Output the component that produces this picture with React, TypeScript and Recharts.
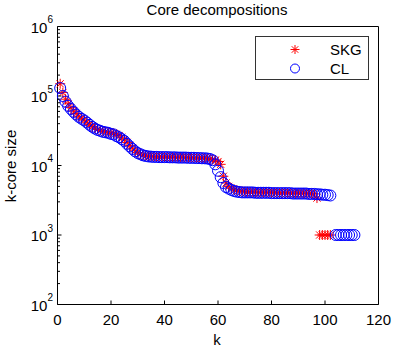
import React from 'react'
import { ScatterChart, Scatter, XAxis, YAxis, Legend } from 'recharts'

// k values and k-core sizes
const skgK = [
  1, 2, 3, 4, 5, 6, 7, 8, 9, 10, 11, 12, 13, 14, 15, 16, 17, 18, 19, 20,
  21, 22, 23, 24, 25, 26, 27, 28, 29, 30, 31, 32, 33, 34, 35, 36, 37, 38, 39, 40,
  41, 42, 43, 44, 45, 46, 47, 48, 49, 50, 51, 52, 53, 54, 55, 56, 57, 58, 59, 60,
  61, 62, 63, 64, 65, 66, 67, 68, 69, 70, 71, 72, 73, 74, 75, 76, 77, 78, 79, 80,
  81, 82, 83, 84, 85, 86, 87, 88, 89, 90, 91, 92, 93, 94, 95, 96, 97,
  98, 99, 100, 101, 102,
]
const skgSize = [
  150000, 112000, 90000, 77000, 68000, 61000, 56000, 51000, 48000, 45000,
  42000, 39000, 36500, 34500, 33000, 32000, 31000, 30500, 30000, 29500,
  29000, 28000, 27000, 25500, 23500, 21500, 19500, 17800, 16300, 15300,
  14600, 14100, 13800, 13600, 13500, 13400, 13400, 13300, 13300, 13300,
  13200, 13200, 13200, 13100, 13100, 13100, 13100, 13000, 13000, 13000,
  12900, 12900, 12800, 12800, 12700, 12600, 12400, 12200, 11900, 11400,
  10400, 7000, 5600, 5000, 4700, 4500, 4400, 4300, 4250, 4200,
  4200, 4150, 4150, 4150, 4100, 4100, 4100, 4100, 4100, 4100,
  4100, 4050, 4050, 4050, 4050, 4050, 4000, 4000, 4000, 4000,
  4000, 4000, 3950, 3950, 3950, 3900, 3400,
  1000, 1000, 1000, 1000, 1000,
]

const clK = [
  1, 2, 3, 4, 5, 6, 7, 8, 9, 10, 11, 12, 13, 14, 15, 16, 17, 18, 19, 20,
  21, 22, 23, 24, 25, 26, 27, 28, 29, 30, 31, 32, 33, 34, 35, 36, 37, 38, 39, 40,
  41, 42, 43, 44, 45, 46, 47, 48, 49, 50, 51, 52, 53, 54, 55, 56, 57, 58, 59, 60,
  61, 62, 63, 64, 65, 66, 67, 68, 69, 70, 71, 72, 73, 74, 75, 76, 77, 78, 79, 80,
  81, 82, 83, 84, 85, 86, 87, 88, 89, 90, 91, 92, 93, 94, 95, 96, 97, 98, 99, 100,
  101, 102,
  104, 105, 106, 107, 108, 109, 110, 111,
]
const clSize = [
  130000, 100000, 83000, 72000, 65000, 59000, 54000, 50000, 47000, 44500,
  41500, 38500, 36000, 34000, 32500, 31500, 30500, 30000, 29500, 28500,
  28000, 26500, 25500, 24000, 22500, 20500, 18800, 17300, 16000, 15100,
  14500, 14000, 13700, 13500, 13400, 13300, 13300, 13200, 13200, 13200,
  13200, 13100, 13100, 13100, 13000, 13000, 13000, 13000, 12900, 12900,
  12900, 12800, 12800, 12700, 12700, 12600, 12400, 11900, 10400, 8400,
  6800, 5600, 4900, 4650, 4450, 4300, 4200, 4150, 4100, 4100,
  4100, 4100, 4100, 4050, 4050, 4050, 4050, 4050, 4050, 4000,
  4000, 4000, 4000, 4000, 4000, 4000, 4000, 3950, 3950, 3950,
  3950, 3950, 3950, 3900, 3900, 3900, 3850, 3850, 3800, 3800,
  3750, 3700,
  1000, 1000, 1000, 1000, 1000, 1000, 1000, 1000,
]

const xTicks = [0, 20, 40, 60, 80, 100, 120]
const yMajor = [100, 1000, 10000, 100000, 1000000]
const yExp = ['2', '3', '4', '5', '6']
const yMinor = yMajor.slice(0, -1).flatMap(d => [2, 3, 4, 5, 6, 7, 8, 9].map(m => m * d))
const yTicks = [...yMajor, ...yMinor].sort((a, b) => a - b)

const skgData = skgK.map((k, i) => ({ k, size: skgSize[i] }))
const clData = clK.map((k, i) => ({ k, size: clSize[i] }))

const FONT = '"Liberation Sans", Arial, sans-serif'

const asteriskPath = (cx: number, cy: number, r: number) => {
  const d = r * 0.72
  return `M${cx - r},${cy}H${cx + r}M${cx},${cy - r}V${cy + r}` +
    `M${cx - d},${cy - d}L${cx + d},${cy + d}M${cx - d},${cy + d}L${cx + d},${cy - d}`
}

const Asterisk = (props: any) => {
  const { cx, cy } = props
  return <path d={asteriskPath(cx, cy, 5)} stroke="#ff0000" strokeWidth={1} fill="none" />
}

const Ring = (props: any) => {
  const { cx, cy } = props
  return <circle cx={cx} cy={cy} r={5.5} stroke="#0000ff" strokeWidth={1} fill="none" />
}

const BottomTick = ({ x, y, payload }: any) => (
  <g>
    <line x1={x} y1={y} x2={x} y2={y - 4} stroke="#000" />
    <text x={x} y={y + 20.5} textAnchor="middle" fontSize={15} fontFamily={FONT} fill="#000">
      {payload.value}
    </text>
  </g>
)

const TopTick = ({ x, y }: any) => (
  <line x1={x} y1={y} x2={x} y2={y + 4} stroke="#000" />
)

const LeftTick = ({ x, y, payload }: any) => {
  const idx = yMajor.indexOf(payload.value)
  if (idx < 0) return <line x1={x} y1={y} x2={x + 2.5} y2={y} stroke="#000" />
  return (
    <g>
      <line x1={x} y1={y} x2={x + 4} y2={y} stroke="#000" />
      <text x={x - 4.5} y={y + 6} textAnchor="end" fontSize={15} fontFamily={FONT} fill="#000">
        10<tspan dy={-9.5} fontSize={10}>{yExp[idx]}</tspan>
      </text>
    </g>
  )
}

const RightTick = ({ x, y, payload }: any) => {
  const len = yMajor.includes(payload.value) ? 4 : 2.5
  return <line x1={x} y1={y} x2={x - len} y2={y} stroke="#000" />
}

const LegendBox = () => (
  <svg width={115} height={45} style={{ display: 'block' }}>
    <rect x={0.5} y={0.5} width={113} height={43} fill="#fff" stroke="#333" />
    <path d={asteriskPath(40, 13.5, 4.5)} stroke="#ff0000" fill="none" />
    <text x={75} y={18.5} fontSize={15} fontFamily={FONT} fill="#000">SKG</text>
    <circle cx={40} cy={32.5} r={4.5} stroke="#0000ff" fill="none" />
    <text x={75} y={37.5} fontSize={15} fontFamily={FONT} fill="#000">CL</text>
  </svg>
)

export default function App() {
  return (
    <div style={{ position: 'absolute', left: 0, top: 0, width: 419, height: 349, background: '#fff' }}>
      <ScatterChart width={419} height={349} margin={{ top: 20.5, right: 30.5, bottom: 14.5, left: 17.5 }}>
        <XAxis
          xAxisId="b"
          type="number"
          dataKey="k"
          domain={[0, 120]}
          ticks={xTicks}
          interval={0}
          height={30}
          tickSize={0}
          tickMargin={0}
          tickLine={false}
          tick={<BottomTick />}
          axisLine={{ stroke: '#000' }}
        />
        <XAxis
          xAxisId="t"
          orientation="top"
          type="number"
          dataKey="k"
          domain={[0, 120]}
          ticks={xTicks}
          interval={0}
          height={6}
          tickSize={0}
          tickMargin={0}
          tickLine={false}
          tick={<TopTick />}
          axisLine={{ stroke: '#000' }}
        />
        <YAxis
          yAxisId="l"
          type="number"
          dataKey="size"
          scale="log"
          domain={[100, 1000000]}
          ticks={yTicks}
          interval={0}
          width={40}
          tickSize={0}
          tickMargin={0}
          tickLine={false}
          tick={<LeftTick />}
          axisLine={{ stroke: '#000' }}
        />
        <YAxis
          yAxisId="r"
          orientation="right"
          type="number"
          dataKey="size"
          scale="log"
          domain={[100, 1000000]}
          ticks={yTicks}
          interval={0}
          width={10}
          tickSize={0}
          tickMargin={0}
          tickLine={false}
          tick={<RightTick />}
          axisLine={{ stroke: '#000' }}
        />
        <Legend
          layout="horizontal"
          verticalAlign="middle"
          align="center"
          content={<LegendBox />}
          wrapperStyle={{ left: 255, top: 36, width: 115, height: 45 }}
        />
        <Scatter name="SKG" data={skgData} xAxisId="b" yAxisId="l" shape={<Asterisk />} isAnimationActive={false} />
        <Scatter name="CL" data={clData} xAxisId="b" yAxisId="l" shape={<Ring />} isAnimationActive={false} />
      </ScatterChart>
      <svg width={419} height={349} style={{ position: 'absolute', left: 0, top: 0, pointerEvents: 'none' }}>
        <text x={217} y={15} textAnchor="middle" fontSize={15} fontFamily={FONT} fill="#000">
          Core decompositions
        </text>
        <text x={217} y={345} textAnchor="middle" fontSize={15} fontFamily={FONT} fill="#000">k</text>
        <text transform="translate(15.5,166) rotate(-90)" textAnchor="middle" fontSize={15} fontFamily={FONT} fill="#000">
          k-core size
        </text>
      </svg>
    </div>
  )
}
